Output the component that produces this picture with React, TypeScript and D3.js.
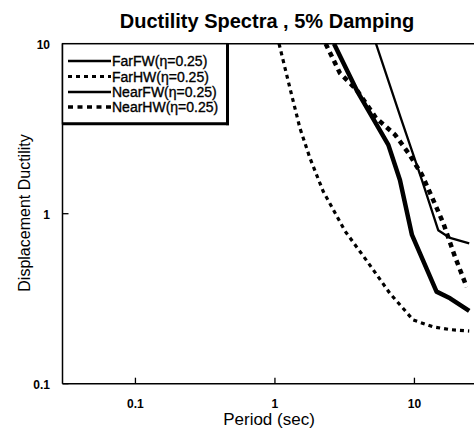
import React from "react";
import * as d3 from "d3";

const title = "Ductility Spectra , 5% Damping";
const xLabel = "Period (sec)";
const yLabel = "Displacement Ductility";
const xTicks = [0.1, 1, 10];
const xTickLabels = ["0.1", "1", "10"];
const yTicks = [0.1, 1, 10];
const yTickLabels = ["0.1", "1", "10"];

const seriesNames = ["FarFW(η=0.25)", "FarHW(η=0.25)", "NearFW(η=0.25)", "NearHW(η=0.25)"];

const periodFarFW = [5.3, 8.0, 11.3, 14.8, 18, 24.7];
const ductFarFW = [10, 3.64, 1.58, 0.8, 0.72, 0.67];

const periodFarHW = [1.07, 1.28, 1.51, 1.78, 2.22, 3.18, 4.54, 6.67, 9.8, 13.6, 18, 24.7];
const ductFarHW = [10, 5.49, 3.19, 2.13, 1.35, 0.79, 0.53, 0.34, 0.237, 0.216, 0.208, 0.204];

const periodNearFW = [2.65, 3.85, 6.5, 7.87, 9.6, 14.4, 18, 24.7];
const ductNearFW = [10, 5.34, 2.54, 1.58, 0.75, 0.348, 0.318, 0.268];

const periodNearHW = [2.31, 2.92, 3.85, 5.3, 7.25, 9.03, 11.3, 13.3, 16.1, 19.5, 23.7];
const ductNearHW = [10, 6.72, 5.36, 3.66, 2.92, 2.28, 1.7, 1.26, 0.88, 0.56, 0.37];

const W = 474;
const H = 432;
const left = 62.5;
const right = 481;
const top = 43.7;
const bottom = 383.7;

const styles = [
  { width: 2.3, dash: "" },
  { width: 3.2, dash: "4,4" },
  { width: 4.5, dash: "" },
  { width: 4.5, dash: "5,4.5" },
];

export default function App() {
  const x = d3.scaleLog().domain([0.03, 30]).range([left, right]);
  const y = d3.scaleLog().domain([0.1, 10]).range([bottom, top]);
  const line = d3
    .line<[number, number]>()
    .x((d) => x(d[0]))
    .y((d) => y(d[1]));
  const series: [number[], number[]][] = [
    [periodFarFW, ductFarFW],
    [periodFarHW, ductFarHW],
    [periodNearFW, ductNearFW],
    [periodNearHW, ductNearHW],
  ];
  const font = "Arial, 'Liberation Sans', Helvetica, sans-serif";
  const legX = left;
  const legY = top;
  const legW = 165;
  const legH = 80;
  const rowY = [61, 76.5, 92, 107];
  return (
    <svg
      width={W}
      height={H}
      style={{ position: "absolute", left: 0, top: 0, background: "#fff" }}
      fontFamily={font}
    >
      <defs>
        <clipPath id="plotclip">
          <rect x={left} y={top} width={right - left} height={bottom - top} />
        </clipPath>
      </defs>
      <rect x={0} y={0} width={W} height={H} fill="#fff" />
      <text x={267} y={27.5} textAnchor="middle" fontSize={20} fontWeight="bold">
        {title}
      </text>
      <line x1={left} x2={W} y1={top} y2={top} stroke="#000" strokeWidth={1.5} />
      <line x1={left} x2={left} y1={top} y2={bottom} stroke="#000" strokeWidth={1.5} />
      <line x1={left} x2={W} y1={bottom} y2={bottom} stroke="#000" strokeWidth={1.5} />
      {xTicks.map((t, i) => (
        <g key={"xt" + i}>
          <line x1={x(t)} x2={x(t)} y1={bottom} y2={bottom - 6} stroke="#000" strokeWidth={1.3} />
          <text x={x(t)} y={407.5} textAnchor="middle" fontSize={12} fontWeight="bold">
            {xTickLabels[i]}
          </text>
        </g>
      ))}
      {yTicks.map((t, i) => (
        <g key={"yt" + i}>
          <line x1={left} x2={left + 6} y1={y(t)} y2={y(t)} stroke="#000" strokeWidth={1.3} />
          <text x={50} y={y(t) + 5.5} textAnchor="end" fontSize={12} fontWeight="bold">
            {yTickLabels[i]}
          </text>
        </g>
      ))}
      <text x={269} y={425} textAnchor="middle" fontSize={17}>
        {xLabel}
      </text>
      <text transform={`translate(30,213) rotate(-90)`} textAnchor="middle" fontSize={16}>
        {yLabel}
      </text>
      <g clipPath="url(#plotclip)">
        {series.map((s, i) => (
          <path
            key={"s" + i}
            d={line(s[0].map((p, j) => [p, s[1][j]] as [number, number])) || ""}
            fill="none"
            stroke="#000"
            strokeWidth={styles[i].width}
            strokeDasharray={styles[i].dash || undefined}
            strokeLinejoin="round"
          />
        ))}
      </g>
      <rect x={legX} y={legY} width={legW} height={legH} fill="#fff" stroke="#000" strokeWidth={1.5} />
      <line x1={legX + legW} x2={legX + legW} y1={legY} y2={legY + legH + 1.5} stroke="#000" strokeWidth={3} />
      <line x1={legX} x2={legX + legW + 1.5} y1={legY + legH} y2={legY + legH} stroke="#000" strokeWidth={3} />
      {seriesNames.map((n, i) => (
        <g key={"lg" + i}>
          <line
            x1={68}
            x2={111}
            y1={rowY[i]}
            y2={rowY[i]}
            stroke="#000"
            strokeWidth={i === 3 ? 3.5 : i === 1 ? 2.8 : 2.5}
            strokeDasharray={styles[i].dash || undefined}
          />
          <text x={112} y={rowY[i] + 5} fontSize={14} stroke="#000" strokeWidth={0.35}>
            {n}
          </text>
        </g>
      ))}
    </svg>
  );
}
